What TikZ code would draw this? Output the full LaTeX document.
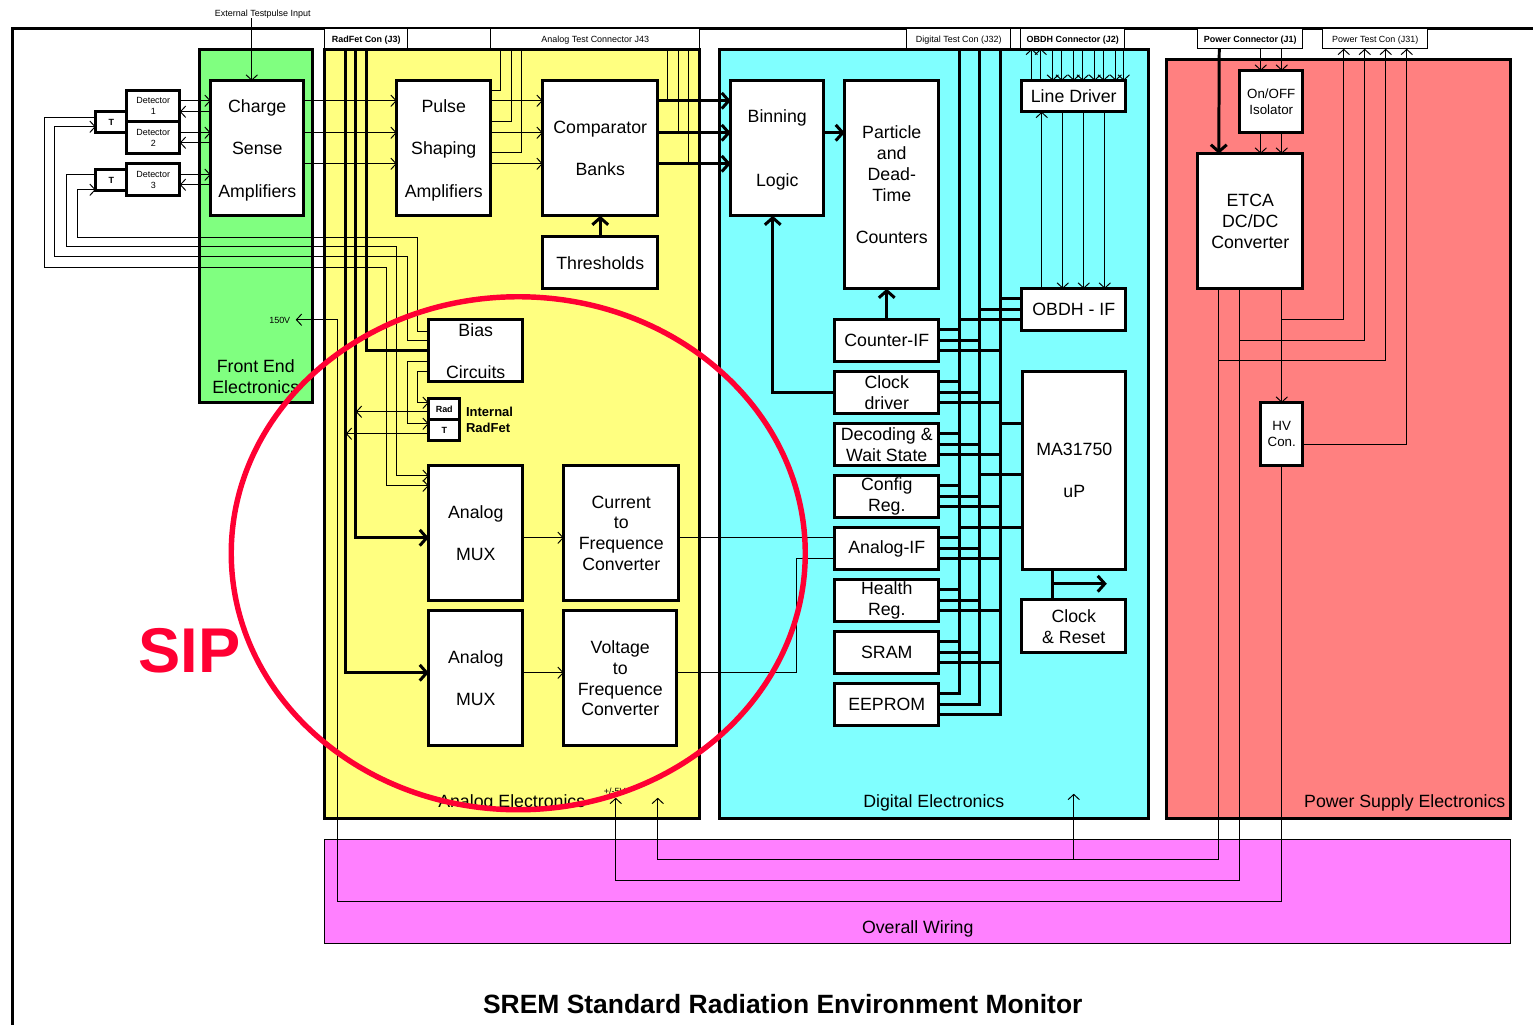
\documentclass[tikz,border=0pt]{standalone}
\usepackage{fontspec}
\setmainfont{Liberation Sans}
\usetikzlibrary{arrows.meta, positioning, shapes.geometric}

\begin{document}
\begin{tikzpicture}[
    x=0.02cm, y=-0.02cm,
    wh/.style 2 args={minimum width=#1*0.02cm, minimum height=#2*0.02cm},
    block/.style={draw, fill=white, line width=1.7pt, inner sep=0pt, outer sep=0pt, align=center, font=\fontsize{10.1}{11.9}\selectfont},
    tiny/.style={block, font=\fontsize{5.1}{6.2}\selectfont},
    tinyb/.style={block, font=\fontsize{5.1}{6}\selectfont\bfseries},
    mid/.style={block, font=\fontsize{7.6}{9}\selectfont},
    panel/.style={draw, line width=1.7pt, inner sep=0pt, outer sep=0pt},
    con/.style={draw, fill=white, line width=0.5pt, inner sep=0pt, outer sep=0pt, text height=4.4pt, text depth=0pt, font=\fontsize{5.1}{6}\selectfont},
    conb/.style={con, font=\fontsize{5.1}{6}\selectfont\bfseries},
    lab/.style={inner sep=0pt, align=center, font=\fontsize{10.1}{11.9}\selectfont},
    wire/.style={line width=0.55pt},
    arr/.style={wire, -{Straight Barb[length=3pt, width=6.5pt]}},
    bus/.style={line width=1.7pt},
    busarr/.style={bus, -{Straight Barb[length=4pt, width=9pt]}}
]
    \useasboundingbox (0.25,0.25) rectangle (1533.25,1024.25);

    % Frame
    \draw[line width=1.7pt] (13,1026) -- (13,29) -- (1535,29);

    % Panels
    \node[panel, fill={rgb,255:red,128;green,255;blue,128}, wh={113}{353}] (front) at (256.5,226.5) {};
    \node[panel, fill={rgb,255:red,255;green,255;blue,128}, wh={375}{769}] (analog) at (512.5,434.5) {};
    \node[panel, fill={rgb,255:red,128;green,255;blue,255}, wh={429}{769}] (digital) at (934.5,434.5) {};
    \node[panel, fill={rgb,255:red,255;green,128;blue,128}, wh={344}{759}] (power) at (1339,439.5) {};
    \node[panel, fill={rgb,255:red,255;green,128;blue,255}, line width=0.5pt, wh={1186}{104}] (wiring) at (918,892) {};

    % Panel titles
    \node[lab] (frontlab) at (256,376.5) {Front End\\Electronics};
    \node[lab] (analoglab) at (512,803.5) {Analog Electronics};
    \node[lab] (digitallab) at (934,803.5) {Digital Electronics};
    \node[lab] (powerlab) at (1405,803.5) {Power Supply Electronics};
    \node[lab] (wiringlab) at (918,929) {Overall Wiring};

    % Connector boxes
    \node[conb, wh={83}{20}] (j3) at (366.5,39) {RadFet Con (J3)};
    \node[con, wh={83}{20}] (jempty) at (449.5,39) {};
    \node[con, wh={209}{20}] (j43) at (595.5,39) {Analog Test Connector J43};
    \node[con, wh={104}{20}] (j32) at (959,39) {Digital Test Con (J32)};
    \node[con, wh={10}{20}] (jgap) at (1016,39) {};
    \node[conb, wh={104}{20}] (j2) at (1073,39) {OBDH Connector (J2)};
    \node[conb, wh={105}{20}] (j1) at (1250.5,39) {Power Connector (J1)};
    \node[con, wh={105}{20}] (j31) at (1375.5,39) {Power Test Con (J31)};

    % Free ends
    \node[inner sep=0pt, font=\fontsize{5.1}{6}\selectfont] (extlab) at (263,14) {External Testpulse Input};
    \node[inner sep=0pt, font=\fontsize{5.1}{6}\selectfont] (hvlab) at (280,320.5) {150V};
    \node[inner sep=0pt, font=\fontsize{5.1}{6}\selectfont] (pmlab) at (615,792) {+/-5V};
    \coordinate (buso) at (960,50);
    \coordinate (bust) at (980,50);
    \coordinate (busr) at (1001,50);
    \coordinate (hvtip) at (296,320);
    \coordinate (pmtip) at (616,798);
    \coordinate (gndtip) at (658,798);
    \coordinate (digtip) at (1074,794);

    % Blocks
    \node[block, text depth=0pt, wh={93}{135}] (chg) at (257.5,148.5) {Charge\\[12.2pt]Sense\\[12.2pt]Amplifiers};
    \node[block, text depth=0pt, wh={94}{135}] (pulse) at (444,148.5) {Pulse\\[12.2pt]Shaping\\[12.2pt]Amplifiers};
    \node[block, wh={115}{135}] (comp) at (600.5,148.5) {Comparator\\[11.9pt]Banks};
    \node[block, wh={115}{52}] (thr) at (600.5,263) {Thresholds};
    \node[block, text depth=0pt, wh={93}{135}] (bin) at (777.5,148.5) {Binning\\[24.3pt]Logic};
    \node[block, wh={94}{208}] (cnt) at (892,185) {Particle\\and\\Dead-\\Time\\[11.9pt]Counters};
    \node[block, wh={94}{62}] (bias) at (476,351) {Bias\\[11.9pt]Circuits};
    \node[tinyb, wh={31}{21}] (rad) at (444.5,409.5) {Rad};
    \node[tinyb, wh={31}{21}] (tint) at (444.5,430.5) {T};
    \node[block, wh={94}{135}] (muxa) at (476,533.5) {Analog\\[11.9pt]MUX};
    \node[block, wh={94}{135}] (muxb) at (476,678.5) {Analog\\[11.9pt]MUX};
    \node[block, wh={115}{135}] (cfc) at (621.5,533.5) {Current\\to\\Frequence\\Converter};
    \node[block, wh={113}{135}] (vfc) at (620.5,678.5) {Voltage\\to\\Frequence\\Converter};

    % Detectors
    \node[tiny, wh={53}{31}] (deta) at (153.5,106.5) {Detector\\1};
    \node[tiny, wh={53}{32}] (detb) at (153.5,138) {Detector\\2};
    \node[tiny, wh={53}{32}] (detc) at (153.5,180) {Detector\\3};
    \node[tinyb, wh={31}{21}] (ta) at (111.5,122.5) {T};
    \node[tinyb, wh={31}{21}] (tb) at (111.5,180.5) {T};

    % Digital blocks
    \node[block, wh={104}{42}] (cif) at (887,341) {Counter-IF};
    \node[block, wh={104}{42}] (clk) at (887,393) {Clock\\driver};
    \node[block, wh={104}{42}] (dec) at (887,445) {Decoding \&\\Wait State};
    \node[block, wh={104}{42}] (cfg) at (887,497) {Config\\Reg.};
    \node[block, wh={104}{42}] (aif) at (887,549) {Analog-IF};
    \node[block, wh={104}{42}] (hlt) at (887,601) {Health\\Reg.};
    \node[block, wh={104}{42}] (sram) at (887,653) {SRAM};
    \node[block, wh={104}{42}] (eep) at (887,705) {EEPROM};
    \node[block, wh={104}{31}] (ldrv) at (1074,96.5) {Line Driver};
    \node[block, wh={104}{42}] (oif) at (1074,310) {OBDH - IF};
    \node[block, wh={103}{198}] (cpu) at (1074.5,471) {MA31750\\[11.9pt]uP};
    \node[block, wh={104}{53}] (rst) at (1074,626.5) {Clock\\\& Reset};

    % Power blocks
    \node[mid, wh={63}{62}] (iso) at (1271.5,102) {On/OFF\\Isolator};
    \node[block, wh={105}{135}] (etca) at (1250.5,221.5) {ETCA\\DC/DC\\Converter};
    \node[mid, wh={42}{63}] (hv) at (1282,434.5) {HV\\Con.};

    % Internal RadFet label
    \node[inner sep=0pt, align=left, anchor=west, font=\fontsize{7.4}{9}\selectfont\bfseries] (radlab) at (466,420) {Internal\\RadFet};

    % Detectors <-> charge amplifiers
    \draw[arr] (extlab.south -| chg.north) ++(-5.5,0) -- (chg.north -| 252,0);
    \draw[arr] (deta.east |- 0,101) -- (chg.west |- 0,101);
    \draw[arr] (chg.west |- 0,112) -- (deta.east |- 0,112);
    \draw[arr] (detb.east |- 0,133) -- (chg.west |- 0,133);
    \draw[arr] (chg.west |- 0,143) -- (detb.east |- 0,143);
    \draw[arr] (detc.east |- 0,175) -- (chg.west |- 0,175);
    \draw[arr] (chg.west |- 0,185) -- (detc.east |- 0,185);

    % T sensors to the bias circuits and the MUX
    \draw[wire] (ta.west |- 0,118) -- (45,118) -- (45,268) -- (387,268) -- (387,486);
    \draw[arr] (387,486) -- (muxa.west |- 0,486);
    \draw[arr] (bias.west |- 0,341) -- (408,341) -- (408,257) -- (55,257) -- (55,127) -- (ta.west |- 0,127);
    \draw[wire] (tb.west |- 0,175) -- (67,175) -- (67,247) -- (397,247) -- (397,476);
    \draw[arr] (397,476) -- (muxa.west |- 0,476);
    \draw[arr] (bias.west |- 0,332) -- (418,332) -- (418,238) -- (78,238) -- (78,190) -- (tb.west |- 0,190);

    % Charge amplifiers -> shaping -> comparators
    \draw[arr] (chg.east |- 0,101) -- (pulse.west |- 0,101);
    \draw[arr] (chg.east |- 0,133) -- (pulse.west |- 0,133);
    \draw[arr] (chg.east |- 0,164) -- (pulse.west |- 0,164);
    \draw[arr] (pulse.east |- 0,101) -- (comp.west |- 0,101);
    \draw[arr] (pulse.east |- 0,133) -- (comp.west |- 0,133);
    \draw[arr] (pulse.east |- 0,164) -- (comp.west |- 0,164);

    % Analog test connector
    \draw[wire] (pulse.east |- 0,91) -- (501,91) -- (501,50);
    \draw[wire] (pulse.east |- 0,122) -- (512,122) -- (512,50);
    \draw[wire] (pulse.east |- 0,153) -- (522,153) -- (522,50);
    \draw[wire] (j43.south -| 668,0) -- (668,101);
    \draw[wire] (j43.south -| 679,0) -- (679,133);
    \draw[wire] (j43.south -| 689,0) -- (689,164);

    % Comparators -> binning -> counters
    \draw[busarr] (comp.east |- 0,101) -- (bin.west |- 0,101);
    \draw[busarr] (comp.east |- 0,133) -- (bin.west |- 0,133);
    \draw[busarr] (comp.east |- 0,164) -- (bin.west |- 0,164);
    \draw[busarr] (bin.east |- 0,133) -- (cnt.west |- 0,133);
    \draw[busarr] (thr.north) -- (comp.south -| thr.north);
    \draw[busarr] (clk.west) -- (773,393) -- (bin.south -| 773,0);
    \draw[busarr] (cif.north) -- (cnt.south -| cif.north);

    % RadFet connector
    \draw[bus] (j3.south -| 367,0) -- (367,351) -- (bias.west |- 0,351);
    \draw[busarr] (j3.south -| 356,0) -- (356,538) -- (muxa.west |- 0,538);
    \draw[busarr] (j3.south -| 346,0) -- (346,673) -- (muxb.west |- 0,673);

    % Bias -> internal RadFet
    \draw[arr] (bias.west |- 0,372) -- (418,372) -- (418,403) -- (rad.west |- 0,403);
    \draw[arr] (bias.west |- 0,362) -- (408,362) -- (408,424) -- (tint.west |- 0,424);
    \draw[arr] (rad.west |- 0,412) -- (356,412);
    \draw[arr] (tint.west |- 0,434) -- (346,434);

    % Analog chain
    \draw[arr] (muxa.east |- 0,538) -- (cfc.west |- 0,538);
    \draw[arr] (muxb.east |- 0,673) -- (vfc.west |- 0,673);
    \draw[wire] (cfc.east |- 0,538) -- (aif.west |- 0,538);
    \draw[wire] (vfc.east |- 0,673) -- (797,673) -- (797,559) -- (aif.west |- 0,559);

    % Digital bus
    \draw[bus] (buso) -- (buso |- 0,694) -- (eep.east |- 0,694);
    \draw[bus] (bust) -- (bust |- 0,705) -- (eep.east |- 0,705);
    \draw[bus] (busr) -- (busr |- 0,715) -- (eep.east |- 0,715);
    \draw[bus] (cif.east |- 0,330) -- (buso |- 0,330) (cif.east |- 0,341) -- (bust |- 0,341) (cif.east |- 0,351) -- (busr |- 0,351);
    \draw[bus] (clk.east |- 0,382) -- (buso |- 0,382) (clk.east |- 0,393) -- (bust |- 0,393) (clk.east |- 0,403) -- (busr |- 0,403);
    \draw[bus] (dec.east |- 0,434) -- (buso |- 0,434) (dec.east |- 0,445) -- (bust |- 0,445) (dec.east |- 0,455) -- (busr |- 0,455);
    \draw[bus] (cfg.east |- 0,486) -- (buso |- 0,486) (cfg.east |- 0,497) -- (bust |- 0,497) (cfg.east |- 0,507) -- (busr |- 0,507);
    \draw[bus] (aif.east |- 0,538) -- (buso |- 0,538) (aif.east |- 0,549) -- (bust |- 0,549) (aif.east |- 0,559) -- (busr |- 0,559);
    \draw[bus] (hlt.east |- 0,590) -- (buso |- 0,590) (hlt.east |- 0,601) -- (bust |- 0,601) (hlt.east |- 0,611) -- (busr |- 0,611);
    \draw[bus] (sram.east |- 0,642) -- (buso |- 0,642) (sram.east |- 0,653) -- (bust |- 0,653) (sram.east |- 0,663) -- (busr |- 0,663);
    \draw[bus] (oif.west |- 0,299) -- (busr |- 0,299) (oif.west |- 0,310) -- (bust |- 0,310) (oif.west |- 0,320) -- (buso |- 0,320);
    \draw[bus] (cpu.west |- 0,424) -- (busr |- 0,424) (cpu.west |- 0,475) -- (bust |- 0,475) (cpu.west |- 0,528) -- (buso |- 0,528);

    % OBDH connector and line driver
    \draw[arr] (ldrv.north -| 1032,0) -- (j2.south -| 1032,0);
    \draw[arr] (ldrv.north -| 1041,0) -- (j2.south -| 1041,0);
    \draw[arr] (j2.south -| 1053,0) -- (ldrv.north -| 1053,0);
    \draw[arr] (j2.south -| 1062,0) -- (ldrv.north -| 1062,0);
    \draw[arr] (j2.south -| 1074,0) -- (ldrv.north -| 1074,0);
    \draw[arr] (j2.south -| 1083,0) -- (ldrv.north -| 1083,0);
    \draw[arr] (j2.south -| 1095,0) -- (ldrv.north -| 1095,0);
    \draw[arr] (j2.south -| 1104,0) -- (ldrv.north -| 1104,0);
    \draw[arr] (j2.south -| 1116,0) -- (ldrv.north -| 1116,0);
    \draw[arr] (j2.south -| 1124,0) -- (ldrv.north -| 1124,0);
    \draw[arr] (oif.north -| 1042,0) -- (ldrv.south -| 1042,0);
    \draw[arr] (ldrv.south -| 1063,0) -- (oif.north -| 1063,0);
    \draw[arr] (ldrv.south -| 1084,0) -- (oif.north -| 1084,0);
    \draw[arr] (ldrv.south -| 1105,0) -- (oif.north -| 1105,0);

    % uP -> clock and reset
    \draw[bus] (cpu.south -| 1053,0) -- (rst.north -| 1053,0);
    \draw[busarr] (1053,584) -- (1107,584);

    % Power
    \draw[busarr] (j1.south -| etca.north) ++(-31,0) -- (etca.north -| 1219,0);
    \draw[arr] (j1.south -| 1261,0) -- (iso.north -| 1261,0);
    \draw[arr] (j1.south -| 1282,0) -- (iso.north -| 1282,0);
    \draw[arr] (iso.south -| 1261,0) -- (etca.north -| 1261,0);
    \draw[arr] (iso.south -| 1282,0) -- (etca.north -| 1282,0);
    \draw[arr] (etca.south -| 1282,0) -- (hv.north -| 1282,0);
    \draw[arr] (etca.south -| 1282,0) -- (1282,320) -- (1344,320) -- (j31.south -| 1344,0);
    \draw[arr] (etca.south -| 1240,0) -- (1240,341) -- (1365,341) -- (j31.south -| 1365,0);
    \draw[arr] (etca.south -| 1219,0) -- (1219,361) -- (1386,361) -- (j31.south -| 1386,0);
    \draw[arr] (hv.east |- 0,445) -- (1407,445) -- (j31.south -| 1407,0);

    % Overall wiring
    \draw[arr] (hv.south) -- (1282,902) -- (338,902) -- (338,320) -- (hvtip);
    \draw[arr] (etca.south -| 1240,0) -- (1240,881) -- (616,881) -- (pmtip);
    \draw[arr] (etca.south -| 1219,0) -- (1219,860) -- (658,860) -- (gndtip);
    \draw[arr] (digtip |- 0,860) -- (digtip);

    % SIP marking
    \node[draw={rgb,255:red,255;green,0;blue,51}, line width=3.1pt, ellipse, wh={574}{513}, inner sep=0pt] (sipring) at (518.5,553.5) {};
    \node[inner sep=0pt, text={rgb,255:red,255;green,0;blue,51}, font=\fontsize{36}{40}\selectfont\bfseries] (sip) at (190,651) {SIP};

    % Title
    \node[inner sep=0pt, font=\fontsize{15.05}{17}\selectfont\bfseries] (title) at (783,1004.5) {SREM Standard Radiation Environment Monitor};
\end{tikzpicture}
\end{document}
